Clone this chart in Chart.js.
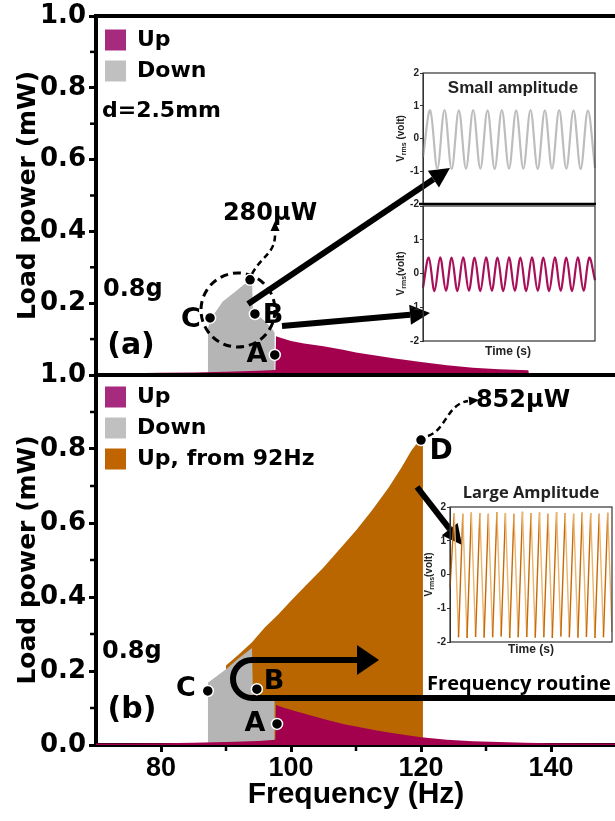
<!DOCTYPE html>
<html><head><meta charset="utf-8">
<script src="https://cdn.jsdelivr.net/npm/chart.js@4.4.0/dist/chart.umd.min.js"></script>
<style>
html,body{margin:0;padding:0;background:#fff;overflow:hidden;width:615px;height:821px;position:relative;}
canvas{position:absolute;}
</style></head><body>
<canvas id="cTop" width="620" height="400" style="left:0;top:0"></canvas>
<canvas id="cBot" width="620" height="481" style="left:0;top:340px"></canvas>
<canvas id="in1a" width="215" height="150" style="left:390px;top:60px"></canvas>
<canvas id="in1b" width="215" height="170" style="left:390px;top:200px"></canvas>
<canvas id="in2" width="215" height="190" style="left:400px;top:470px"></canvas>
<script>
// ---------------- DATA ----------------
const seriesLabels = ['Up', 'Down', 'Up, from 92Hz'];
const xTickValues = [80, 100, 120, 140];

// Panel (a), d = 2.5 mm
const upA_freq  = [70, 75, 80, 85, 90, 95, 97.6, 97.7, 98.5, 100, 102, 105, 108, 110, 113, 116, 120, 124, 128, 132, 136.5, 136.6, 140, 145, 150];
const upA_pow   = [0.004, 0.005, 0.006, 0.007, 0.009, 0.012, 0.014, 0.108, 0.103, 0.095, 0.088, 0.080, 0.070, 0.063, 0.054, 0.046, 0.036, 0.027, 0.020, 0.016, 0.013, 0.005, 0.004, 0.004, 0.004];
const downA_freq = [87.2, 87.8, 89.5, 91.7, 93.4, 94.0, 94.15, 95.0, 96.0, 97.0, 97.5];
const downA_pow  = [0.130, 0.160, 0.205, 0.236, 0.262, 0.270, 0.175, 0.165, 0.150, 0.130, 0.118];

// Panel (b)
const upB_freq  = [70, 75, 80, 85, 90, 95, 97.6, 97.7, 99, 101, 105, 108, 110, 113, 116, 120, 124, 128, 132, 136, 140, 150];
const upB_pow   = [0.004, 0.004, 0.005, 0.006, 0.008, 0.011, 0.014, 0.108, 0.100, 0.090, 0.070, 0.057, 0.050, 0.040, 0.031, 0.021, 0.014, 0.010, 0.008, 0.006, 0.005, 0.004];
const downB_freq = [87.2, 88.5, 90.0, 92.0, 94.0, 94.15, 97.5];
const downB_pow  = [0.168, 0.185, 0.205, 0.235, 0.262, 0.130, 0.120];
const up92B_freq = [90.0, 92.0, 94.0, 96.0, 98.0, 100.0, 102.5, 105.0, 107.5, 110.0, 112.5, 115.0, 117.0, 118.5, 119.8, 120.3];
const up92B_pow  = [0.215, 0.245, 0.278, 0.318, 0.352, 0.390, 0.435, 0.480, 0.530, 0.580, 0.635, 0.695, 0.750, 0.795, 0.825, 0.828];

// Inset waveforms (successive extrema, volt)
const smallDownWave = [-0.56, 0.86, -0.92, 0.87, -0.93, 0.86, -0.92, 0.87, -0.92, 0.86, -0.93, 0.87, -0.92, 0.86, -0.92, 0.87, -0.93, 0.86, -0.92, 0.87, -0.92, 0.86, -0.93, 0.85, -0.90];
const smallUpWave = [-0.42, 0.47, -0.52, 0.48, -0.51, 0.47, -0.52, 0.48, -0.51, 0.47, -0.52, 0.48, -0.51, 0.47, -0.52, 0.48, -0.51, 0.47, -0.52, 0.48, -0.51, 0.47, -0.52, 0.48, -0.51, 0.47, -0.52, 0.48, -0.51, 0.47, -0.20];
const largeWave = [-0.40, 1.82, -1.86, 1.80, -1.88, 1.84, -1.85, 1.82, -1.87, 1.80, -1.86, 1.85, -1.84, 1.82, -1.88, 1.80, -1.86, 1.86, -1.85, 1.82, -1.87, 1.84, -1.86, 1.80, -1.88, 1.85, -1.84, 1.82, -1.86, 1.80, -1.87, 1.84, -1.85, 1.82, -1.88, 1.80, -1.86, 1.83, -1.70];

// Labelled operating points [freq, power]
const ptsA = {peak:[93.7, 0.265], C:[87.55, 0.159], B:[94.45, 0.170], A:[97.5, 0.056]};
const ptsB = {C:[87.2, 0.146], B:[94.75, 0.151], A:[97.85, 0.057], D:[120.0, 0.824]};

// ---------------- STYLE ----------------
const COL = {up:'#A3004E', down:'#B5B5B5', up92:'#B96500'};
const LEGCOL = {'Up':'#A62A7E', 'Down':'#C0C0C0', 'Up, from 92Hz':'#C06400'};
const DV = "'DejaVu Sans'";
const OS = "'Open Sans'";
const LIB = "'Liberation Sans', Arial";

const toXY = (fx, py) => fx.map((f, i) => ({x: f, y: py[i]}));
const ds = (label, fx, py, col) => ({label, data: toXY(fx, py), backgroundColor: col, borderColor: 'rgba(0,0,0,0)', borderWidth: 0, pointRadius: 0, fill: 'origin', tension: 0});

function txt(ctx, s, x, y, size, family, align, color) {
  ctx.save();
  ctx.font = 'bold ' + size + 'px ' + family;
  ctx.fillStyle = color || '#000';
  ctx.textAlign = align || 'center';
  ctx.textBaseline = 'middle';
  ctx.fillText(s, x, y);
  ctx.restore();
}
function dot(ctx, x, y) {
  ctx.save(); ctx.beginPath(); ctx.arc(x, y, 5.5, 0, Math.PI * 2);
  ctx.fillStyle = '#000'; ctx.fill(); ctx.lineWidth = 1.5; ctx.strokeStyle = '#fff'; ctx.stroke(); ctx.restore();
}
function arrow(ctx, x1, y1, x2, y2, w, hl, hw) {
  const a = Math.atan2(y2 - y1, x2 - x1);
  const bx = x2 - hl * Math.cos(a), by = y2 - hl * Math.sin(a);
  ctx.save();
  ctx.beginPath(); ctx.moveTo(x1, y1); ctx.lineTo(bx, by);
  ctx.lineWidth = w; ctx.strokeStyle = '#000'; ctx.lineCap = 'butt'; ctx.stroke();
  ctx.beginPath(); ctx.moveTo(x2, y2);
  ctx.lineTo(bx + hw * Math.sin(a), by - hw * Math.cos(a));
  ctx.lineTo(bx - hw * Math.sin(a), by + hw * Math.cos(a));
  ctx.closePath(); ctx.fillStyle = '#000'; ctx.fill();
  ctx.restore();
}
function head(ctx, x, y, ang, len, hw) {
  const bx = x - len * Math.cos(ang), by = y - len * Math.sin(ang);
  ctx.beginPath(); ctx.moveTo(x, y);
  ctx.lineTo(bx + hw * Math.sin(ang), by - hw * Math.cos(ang));
  ctx.lineTo(bx - hw * Math.sin(ang), by + hw * Math.cos(ang));
  ctx.closePath(); ctx.fillStyle = '#000'; ctx.fill();
}
function P(chart, pt) { return [chart.scales.x.getPixelForValue(pt[0]), chart.scales.y.getPixelForValue(pt[1])]; }

// minor ticks + top frame line
const axisDeco = {
  id: 'axisDeco',
  afterDraw(chart, args, o) {
    const ctx = chart.ctx, a = chart.chartArea;
    ctx.save(); ctx.strokeStyle = '#000';
    ctx.lineWidth = 2.5;
    chart.scales.y.ticks.forEach(t => {
      const k = Math.round(t.value * 10);
      if (k % 2 !== 0) { const y = chart.scales.y.getPixelForValue(t.value); ctx.beginPath(); ctx.moveTo(a.left - 6, y); ctx.lineTo(a.left - 2, y); ctx.stroke(); }
    });
    if (o.minorX) {
      chart.scales.x.ticks.forEach(t => {
        if (t.value % 20 !== 0 && t.value > 70 && t.value < 150) { const x = chart.scales.x.getPixelForValue(t.value); ctx.beginPath(); ctx.moveTo(x, a.bottom + 2); ctx.lineTo(x, a.bottom + 6); ctx.stroke(); }
      });
    }
    if (o.topLine) { ctx.lineWidth = 4; ctx.beginPath(); ctx.moveTo(a.left - 2, a.top); ctx.lineTo(chart.width, a.top); ctx.stroke(); }
    ctx.restore();
  }
};

const annotTop = {
  id: 'annotTop',
  afterDraw(chart) {
    const ctx = chart.ctx;
    ctx.save();
    ctx.setLineDash([8, 5]); ctx.lineWidth = 3; ctx.strokeStyle = '#000';
    ctx.beginPath(); ctx.arc(238, 310, 37, 0, Math.PI * 2); ctx.stroke();
    ctx.setLineDash([6, 4]); ctx.lineWidth = 2.5;
    ctx.beginPath(); ctx.moveTo(252, 274); ctx.bezierCurveTo(262, 255, 276, 254, 275, 232); ctx.stroke();
    ctx.setLineDash([]);
    head(ctx, 275, 221, -Math.PI / 2, 10, 4.5);
    arrow(ctx, 248, 304, 450, 168, 6, 20, 10);
    arrow(ctx, 282, 326, 430, 313, 6, 20, 10);
    ctx.restore();
    const pk = P(chart, ptsA.peak), c = P(chart, ptsA.C), b = P(chart, ptsA.B), a = P(chart, ptsA.A);
    dot(ctx, pk[0], pk[1]); dot(ctx, c[0], c[1]); dot(ctx, b[0], b[1]); dot(ctx, a[0], a[1]);
    txt(ctx, 'C', 191, 320, 27, DV);
    txt(ctx, 'B', 273, 316, 27, DV);
    txt(ctx, 'A', 257, 355, 27, DV);
    txt(ctx, '280µW', 270, 214, 24, DV);
    txt(ctx, 'd=2.5mm', 102, 111, 22, DV, 'left');
    txt(ctx, '0.8g', 103, 290, 24, DV, 'left');
    txt(ctx, '(a)', 131, 346, 30, DV);
  }
};

const OFF = 340;
const annotBot = {
  id: 'annotBot',
  afterDraw(chart) {
    const ctx = chart.ctx;
    ctx.save();
    ctx.translate(0, -OFF);
    ctx.setLineDash([6, 4]); ctx.lineWidth = 2.5; ctx.strokeStyle = '#000';
    ctx.beginPath(); ctx.moveTo(428, 436); ctx.bezierCurveTo(446, 430, 447, 404, 468, 401); ctx.stroke();
    ctx.setLineDash([]);
    head(ctx, 479, 400, -0.1, 10, 4.5);
    arrow(ctx, 417, 487, 462, 545, 6, 20, 10);
    ctx.lineWidth = 6; ctx.strokeStyle = '#000';
    ctx.beginPath(); ctx.moveTo(625, 698); ctx.lineTo(252, 698);
    ctx.arc(252, 679, 19, Math.PI / 2, Math.PI * 1.5, false);
    ctx.lineTo(360, 660); ctx.stroke();
    head(ctx, 379, 660, 0, 22, 15);
    txt(ctx, 'C', 186, 689, 27, DV);
    txt(ctx, 'B', 274, 682, 27, DV);
    txt(ctx, 'A', 255, 724, 27, DV);
    txt(ctx, 'D', 441, 452, 28, DV);
    txt(ctx, '852µW', 523, 401, 24, DV);
    txt(ctx, '0.8g', 102, 652, 24, DV, 'left');
    txt(ctx, '(b)', 132, 710, 30, DV);
    txt(ctx, 'Frequency routine', 519, 684, 20, OS);
    ctx.restore();
    const c = P(chart, ptsB.C), b = P(chart, ptsB.B), a = P(chart, ptsB.A), d = P(chart, ptsB.D);
    dot(ctx, c[0], c[1]); dot(ctx, b[0], b[1]); dot(ctx, a[0], a[1]); dot(ctx, d[0], d[1]);
  }
};

function legendOpts(spacer) {
  return {
    position: 'chartArea', align: 'start',
    title: {display: true, text: ' ', font: {size: 1, lineHeight: 1}, padding: {top: spacer, bottom: 0}},
    labels: {
      font: {family: DV, weight: 'bold', size: 22}, color: '#000',
      boxWidth: 21, boxHeight: 21, padding: 9,
      generateLabels: (chart) => Chart.defaults.plugins.legend.labels.generateLabels(chart).map(l => Object.assign(l, {fillStyle: LEGCOL[l.text], strokeStyle: LEGCOL[l.text], lineWidth: 0}))
    }
  };
}
function yAxis(hideZero) {
  return {
    min: 0, max: 1,
    ticks: {stepSize: 0.1, color: '#000', padding: 3, font: {family: DV, weight: 'bold', size: 26, lineHeight: 1},
      callback: v => { const k = Math.round(v * 10); return (k % 2 === 0 && !(hideZero && k === 0)) ? (k / 10).toFixed(1) : ''; }},
    grid: {drawOnChartArea: false, tickLength: 7, tickWidth: 3, tickColor: c => (Math.round(c.tick.value * 10) % 2 === 0 ? '#000' : 'rgba(0,0,0,0)')},
    border: {width: 4, color: '#000'},
    title: {display: true, text: 'Load power (mW)', color: '#000', padding: 0, font: {family: DV, weight: 'bold', size: 25, lineHeight: 1.2}},
    afterFit: s => { s.width = 83; }
  };
}

new Chart(document.getElementById('cTop'), {
  type: 'line',
  data: {datasets: [ds(seriesLabels[0], upA_freq, upA_pow, COL.up), ds(seriesLabels[1], downA_freq, downA_pow, COL.down)]},
  options: {
    responsive: false, animation: false, devicePixelRatio: 1,
    layout: {padding: {left: 13, top: 16, right: 4, bottom: 0}},
    plugins: {legend: legendOpts(19), tooltip: {enabled: false}, axisDeco: {topLine: true}},
    scales: {
      x: {type: 'linear', min: 70, max: 150, ticks: {display: false}, grid: {display: false}, border: {width: 4, color: '#000'}, afterFit: s => { s.height = 25; }},
      y: yAxis(true)
    }
  },
  plugins: [axisDeco, annotTop]
});

new Chart(document.getElementById('cBot'), {
  type: 'line',
  data: {datasets: [ds(seriesLabels[0], upB_freq, upB_pow, COL.up), ds(seriesLabels[1], downB_freq, downB_pow, COL.down), ds(seriesLabels[2], up92B_freq, up92B_pow, COL.up92)]},
  options: {
    responsive: false, animation: false, devicePixelRatio: 1,
    layout: {padding: {left: 13, top: 35, right: 4, bottom: 3}},
    plugins: {legend: legendOpts(36), tooltip: {enabled: false}, axisDeco: {topLine: true, minorX: true}},
    scales: {
      x: {type: 'linear', min: 70, max: 150,
        ticks: {stepSize: 10, color: '#000', padding: 3, maxRotation: 0, autoSkip: false, font: {family: LIB, weight: 'bold', size: 27, lineHeight: 1},
          callback: v => xTickValues.includes(v) ? String(v) : ''},
        grid: {drawOnChartArea: false, tickLength: 7, tickWidth: 3, tickColor: c => (xTickValues.includes(c.tick.value) ? '#000' : 'rgba(0,0,0,0)')},
        border: {width: 4, color: '#000'},
        title: {display: true, text: 'Frequency (Hz)', color: '#000', padding: {top: 0, bottom: 8}, font: {family: LIB, weight: 'bold', size: 30, lineHeight: 1}},
        afterFit: s => { s.height = 73; }},
      y: yAxis(false)
    }
  },
  plugins: [axisDeco, annotBot]
});

// ---------------- INSETS ----------------
function insetDeco(o) {
  return {
    id: 'insetDeco',
    afterDraw(chart) {
      const ctx = chart.ctx, a = chart.chartArea;
      ctx.save();
      ctx.strokeStyle = '#333'; ctx.lineWidth = 1.2;
      ctx.strokeRect(a.left, a.top, a.right - a.left, a.bottom - a.top);
      if (o.sepBottom) { ctx.lineWidth = 2.5; ctx.strokeStyle = '#000'; ctx.beginPath(); ctx.moveTo(a.left - 4, a.bottom); ctx.lineTo(a.right + 1, a.bottom); ctx.stroke(); }
      const cy = (a.top + a.bottom) / 2;
      ctx.translate(o.titleX, cy); ctx.rotate(-Math.PI / 2);
      ctx.fillStyle = '#222'; ctx.textBaseline = 'alphabetic';
      ctx.font = 'bold 10px ' + LIB; const w1 = ctx.measureText('V').width;
      ctx.font = 'bold 7px ' + LIB; const w2 = ctx.measureText('rms').width;
      ctx.font = 'bold 10px ' + LIB; const w3 = ctx.measureText(o.unit).width;
      let x = -(w1 + w2 + w3) / 2;
      ctx.textAlign = 'left';
      ctx.fillText('V', x, 4); x += w1;
      ctx.font = 'bold 7px ' + LIB; ctx.fillText('rms', x, 6); x += w2;
      ctx.font = 'bold 10px ' + LIB; ctx.fillText(o.unit, x, 4);
      ctx.restore();
      if (o.header) txt(ctx, o.header[0], o.header[1], o.header[2], o.header[3], o.header[4], 'center', '#222');
      if (o.footer) txt(ctx, 'Time (s)', o.footer[0], o.footer[1], 12, LIB, 'center', '#222');
    }
  };
}
function inset(id, values, o) {
  const dset = {data: values, borderColor: o.color, borderWidth: o.lw, pointRadius: 0, tension: o.tension, fill: false};
  if (o.segment) dset.segment = o.segment;
  return new Chart(document.getElementById(id), {
    type: 'line',
    data: {labels: values.map((_, i) => i), datasets: [dset]},
    options: {
      responsive: false, animation: false, devicePixelRatio: 1,
      layout: {padding: {left: 0, top: o.pad[0], right: o.pad[1], bottom: o.pad[2]}},
      plugins: {legend: {display: false}, tooltip: {enabled: false}},
      scales: {
        x: {display: false, offset: false},
        y: {min: -2, max: 2,
          ticks: {stepSize: 1, color: '#222', padding: 1, font: {family: LIB, weight: 'bold', size: 10, lineHeight: 1}, callback: v => (o.hideTop && v === 2) ? '' : String(v)},
          grid: {drawOnChartArea: false, tickLength: 3, color: '#333'},
          border: {display: true, color: '#333', width: 1},
          afterFit: s => { s.width = o.axisW; }}
      }
    },
    plugins: [insetDeco(o)]
  });
}
inset('in1a', smallDownWave, {color: '#BDBDBD', lw: 2.2, tension: 0.35, pad: [13, 10, 5], axisW: 33, titleX: 10, unit: ' (volt)', sepBottom: true, header: ['Small amplitude', 123, 28, 17, LIB]});
inset('in1b', smallUpWave, {color: '#A8105A', lw: 2.2, tension: 0.35, pad: [5, 10, 29], axisW: 33, titleX: 10, unit: '(volt)', hideTop: true, footer: [118, 152]});
inset('in2', largeWave, {color: '#C8700E', lw: 1.4, tension: 0, pad: [37, 3, 18], axisW: 50, titleX: 28, unit: '(volt)', header: ['Large Amplitude', 131, 23, 16.5, OS], footer: [131, 180],
  segment: {borderColor: c => (c.p1.parsed.y > c.p0.parsed.y ? '#C56A08' : '#EBB570')}});
</script>
</body></html>
